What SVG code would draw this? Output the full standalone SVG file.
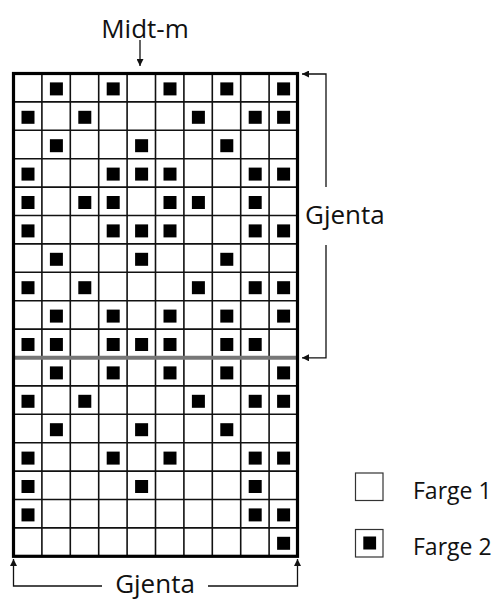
<svg xmlns="http://www.w3.org/2000/svg" width="504" height="601" viewBox="0 0 504 601">
<style>
.lbl{font-family:"Open Sans","Noto Sans",sans-serif;font-size:26px;fill:#111}
.leg{font-family:"Open Sans","Noto Sans",sans-serif;font-size:23px;fill:#111}
.thin{fill:none;stroke:#111;stroke-width:1.6}
.conn{fill:none;stroke:#111;stroke-width:1.3}
.sq{fill:#000}
</style>
<defs>
<marker id="ah" viewBox="0 0 10 10" refX="10" refY="5" markerWidth="8" markerHeight="7" markerUnits="userSpaceOnUse" orient="auto"><path d="M0,0 L10,5 L0,10 z" fill="#111"/></marker>
<rect id="s" width="13" height="13" class="sq"/>
</defs>
<rect x="0" y="0" width="504" height="601" fill="#fff"/>
<g id="chart">
<rect x="13.5" y="73.5" width="284" height="482.8" fill="#fff"/>
<path class="thin" d="M41.9,73.5V556.3M70.3,73.5V556.3M98.7,73.5V556.3M127.1,73.5V556.3M155.5,73.5V556.3M183.9,73.5V556.3M212.3,73.5V556.3M240.7,73.5V556.3M269.1,73.5V556.3M13.5,101.9H297.5M13.5,130.3H297.5M13.5,158.7H297.5M13.5,187.1H297.5M13.5,215.5H297.5M13.5,243.9H297.5M13.5,272.3H297.5M13.5,300.7H297.5M13.5,329.1H297.5M13.5,385.9H297.5M13.5,414.3H297.5M13.5,442.7H297.5M13.5,471.1H297.5M13.5,499.5H297.5M13.5,527.9H297.5"/>
<line x1="13.5" y1="357.8" x2="297.5" y2="357.8" stroke="#777" stroke-width="4"/>
<g id="stitches">
<use href="#s" x="49.9" y="82.4"/><use href="#s" x="106.7" y="82.4"/><use href="#s" x="163.5" y="82.4"/><use href="#s" x="220.3" y="82.4"/><use href="#s" x="277.1" y="82.4"/>
<use href="#s" x="21.5" y="110.8"/><use href="#s" x="78.3" y="110.8"/><use href="#s" x="191.9" y="110.8"/><use href="#s" x="248.7" y="110.8"/><use href="#s" x="277.1" y="110.8"/>
<use href="#s" x="49.9" y="139.2"/><use href="#s" x="135.1" y="139.2"/><use href="#s" x="220.3" y="139.2"/>
<use href="#s" x="21.5" y="167.6"/><use href="#s" x="106.7" y="167.6"/><use href="#s" x="135.1" y="167.6"/><use href="#s" x="163.5" y="167.6"/><use href="#s" x="248.7" y="167.6"/><use href="#s" x="277.1" y="167.6"/>
<use href="#s" x="21.5" y="196"/><use href="#s" x="78.3" y="196"/><use href="#s" x="106.7" y="196"/><use href="#s" x="163.5" y="196"/><use href="#s" x="191.9" y="196"/><use href="#s" x="248.7" y="196"/>
<use href="#s" x="21.5" y="224.4"/><use href="#s" x="106.7" y="224.4"/><use href="#s" x="135.1" y="224.4"/><use href="#s" x="163.5" y="224.4"/><use href="#s" x="248.7" y="224.4"/><use href="#s" x="277.1" y="224.4"/>
<use href="#s" x="49.9" y="252.8"/><use href="#s" x="135.1" y="252.8"/><use href="#s" x="220.3" y="252.8"/>
<use href="#s" x="21.5" y="281.2"/><use href="#s" x="78.3" y="281.2"/><use href="#s" x="191.9" y="281.2"/><use href="#s" x="248.7" y="281.2"/><use href="#s" x="277.1" y="281.2"/>
<use href="#s" x="49.9" y="309.6"/><use href="#s" x="106.7" y="309.6"/><use href="#s" x="163.5" y="309.6"/><use href="#s" x="220.3" y="309.6"/><use href="#s" x="277.1" y="309.6"/>
<use href="#s" x="21.5" y="338"/><use href="#s" x="49.9" y="338"/><use href="#s" x="106.7" y="338"/><use href="#s" x="135.1" y="338"/><use href="#s" x="163.5" y="338"/><use href="#s" x="220.3" y="338"/><use href="#s" x="248.7" y="338"/>
<use href="#s" x="49.9" y="366.4"/><use href="#s" x="106.7" y="366.4"/><use href="#s" x="163.5" y="366.4"/><use href="#s" x="220.3" y="366.4"/><use href="#s" x="277.1" y="366.4"/>
<use href="#s" x="21.5" y="394.8"/><use href="#s" x="78.3" y="394.8"/><use href="#s" x="191.9" y="394.8"/><use href="#s" x="248.7" y="394.8"/><use href="#s" x="277.1" y="394.8"/>
<use href="#s" x="49.9" y="423.2"/><use href="#s" x="135.1" y="423.2"/><use href="#s" x="220.3" y="423.2"/>
<use href="#s" x="21.5" y="451.6"/><use href="#s" x="106.7" y="451.6"/><use href="#s" x="163.5" y="451.6"/><use href="#s" x="248.7" y="451.6"/><use href="#s" x="277.1" y="451.6"/>
<use href="#s" x="21.5" y="480"/><use href="#s" x="135.1" y="480"/><use href="#s" x="248.7" y="480"/>
<use href="#s" x="21.5" y="508.4"/><use href="#s" x="248.7" y="508.4"/><use href="#s" x="277.1" y="508.4"/>
<use href="#s" x="277.1" y="536.8"/>
</g>
<rect x="13.5" y="73.5" width="284" height="482.8" fill="none" stroke="#000" stroke-width="3.2"/>
</g>
<g id="connectors">
<path class="conn" d="M140,40V66" marker-end="url(#ah)"/>
<path class="conn" d="M326,187V74H302" marker-end="url(#ah)"/>
<path class="conn" d="M326,245V357.8H302" marker-end="url(#ah)"/>
<path class="conn" d="M102,586H13.5V559" marker-end="url(#ah)"/>
<path class="conn" d="M208,586H297.5V559" marker-end="url(#ah)"/>
</g>
<g id="labels">
<text class="lbl" x="145" y="38" text-anchor="middle">Midt-m</text>
<text class="lbl" x="305" y="223.5">Gjenta</text>
<text class="lbl" x="155" y="593" text-anchor="middle" font-size="25">Gjenta</text>
</g>
<g id="legend">
<g id="farge1">
<rect x="355.5" y="473" width="27.5" height="27.5" fill="#fff" stroke="#333" stroke-width="1.2"/>
<text class="leg" x="413" y="498.5">Farge 1</text>
</g>
<g id="farge2">
<rect x="355.5" y="529.5" width="27.5" height="27.5" fill="#fff" stroke="#333" stroke-width="1.2"/>
<rect x="363.3" y="536.5" width="12.8" height="13" class="sq"/>
<text class="leg" x="413" y="555">Farge 2</text>
</g>
</g>
</svg>
